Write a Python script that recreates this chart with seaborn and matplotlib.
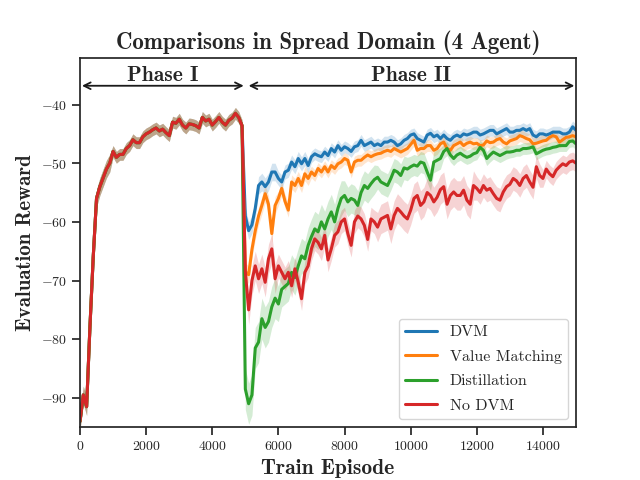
import numpy as np
import pandas as pd
import seaborn as sns
import matplotlib.pyplot as plt

# Setup
sns.set_theme(style="ticks")
plt.rcParams['font.family'] = ['cmr10', 'DejaVu Serif']
plt.rcParams['mathtext.fontset'] = 'cm'
plt.rcParams['axes.formatter.use_mathtext'] = True
plt.rcParams['axes.unicode_minus'] = True

# Data (one value every 100 episodes)
episodes = np.arange(0, 15001, 100)

# Phase I: all methods share the same run (ep 0 .. 4900)
phase1 = [-94.0, -89.5, -91.5, -78.0, -66.0, -56.0, -54.0, -52.5, -51.0, -50.0,
          -48.0, -49.0, -48.5, -48.5, -47.5, -47.0, -46.0, -46.5, -46.5, -45.5,
          -45.0, -44.7, -44.3, -44.0, -44.5, -44.2, -44.8, -45.3, -43.0, -43.2,
          -42.5, -43.5, -44.0, -43.3, -43.4, -43.6, -44.0, -42.2, -42.8, -42.5,
          -43.5, -42.9, -42.2, -43.0, -43.5, -42.7, -42.3, -41.5, -42.2, -43.6]

# Phase II (ep 5000 .. 15000)
dvm = [-59.0, -61.5, -60.5, -57.7, -53.8, -53.2, -54.0, -53.2, -51.5, -51.5,
       -52.6, -53.2, -51.5, -51.2, -49.8, -50.6, -49.2, -50.1, -49.2, -50.4,
       -48.9, -48.4, -48.7, -48.9, -48.1, -48.7, -47.5, -48.1, -47.0, -47.8,
       -47.2, -47.5, -48.0, -47.2, -47.0, -46.1, -47.0, -46.7, -46.4, -47.0,
       -46.7, -47.0, -46.4, -46.4, -46.1, -46.4, -47.0, -46.7, -46.1, -45.8,
       -45.2, -45.0, -45.8, -46.1, -46.4, -45.2, -44.9, -45.5, -45.2, -45.8,
       -45.2, -45.8, -46.1, -45.5, -45.2, -45.5, -45.0, -45.2, -45.0, -44.7,
       -44.7, -45.2, -45.0, -44.7, -44.4, -44.4, -45.0, -44.7, -44.4, -44.1,
       -44.7, -44.7, -44.4, -44.4, -44.1, -44.4, -44.1, -45.2, -45.5, -45.0,
       -45.0, -45.2, -45.0, -44.7, -44.7, -44.7, -45.0, -45.0, -44.7, -43.8,
       -44.4]
value_matching = [-68.5, -69.0, -64.7, -61.5, -59.0, -57.2, -55.2, -57.0, -62.0, -57.2,
                  -56.0, -54.3, -56.5, -58.0, -53.2, -53.8, -52.6, -53.8, -51.8, -52.6,
                  -51.5, -52.1, -50.9, -51.5, -50.6, -51.5, -50.4, -50.9, -50.1, -49.8,
                  -49.2, -49.5, -51.5, -49.8, -49.5, -49.5, -49.0, -48.6, -48.9, -48.6,
                  -48.4, -48.3, -48.0, -47.8, -48.0, -47.5, -47.8, -48.1, -47.8, -47.5,
                  -46.8, -46.1, -47.8, -47.5, -47.5, -47.0, -47.0, -47.8, -47.5, -46.7,
                  -46.4, -47.5, -47.8, -47.0, -46.7, -46.4, -47.0, -46.6, -46.4, -46.7,
                  -46.6, -47.0, -46.9, -46.2, -46.5, -46.4, -46.0, -45.8, -46.4, -46.7,
                  -46.2, -46.0, -45.8, -45.3, -45.5, -45.8, -46.0, -46.7, -46.6, -46.4,
                  -46.2, -46.1, -45.6, -45.3, -45.5, -46.4, -46.0, -45.6, -45.5, -45.3,
                  -45.5]
distillation = [-88.5, -91.0, -89.5, -81.5, -80.5, -76.5, -78.0, -77.0, -74.5, -73.0,
                -74.0, -71.5, -71.0, -70.5, -68.6, -69.5, -67.5, -65.8, -66.3, -64.0,
                -62.5, -61.2, -61.7, -60.0, -61.2, -59.5, -58.3, -60.0, -57.7, -56.0,
                -55.5, -56.6, -56.0, -56.3, -57.2, -55.0, -53.8, -54.3, -53.5, -52.8,
                -52.4, -53.2, -53.5, -53.8, -52.6, -51.2, -51.5, -52.1, -50.8, -51.0,
                -50.6, -50.3, -50.5, -49.8, -50.0, -51.5, -52.9, -49.8, -49.5, -49.2,
                -48.0, -47.5, -48.6, -49.2, -48.6, -48.3, -48.7, -49.0, -48.8, -48.4,
                -48.2, -47.3, -47.8, -49.2, -48.6, -48.1, -48.4, -48.7, -48.4, -48.1,
                -48.1, -48.0, -47.8, -47.8, -47.5, -47.5, -47.4, -47.2, -48.4, -48.1,
                -47.8, -47.6, -47.5, -47.3, -47.2, -47.0, -47.0, -47.0, -46.3, -46.2,
                -46.7]
no_dvm = [-68.5, -75.0, -70.0, -67.5, -69.7, -68.0, -70.3, -66.3, -64.6, -69.7,
          -67.5, -68.6, -69.7, -68.6, -70.9, -68.0, -70.3, -73.1, -68.6, -67.5,
          -64.6, -62.9, -63.5, -64.6, -62.3, -66.5, -64.6, -62.3, -61.7, -60.0,
          -59.5, -62.0, -64.0, -60.0, -59.0, -59.5, -60.6, -63.0, -59.5, -60.0,
          -60.9, -59.5, -59.2, -58.9, -61.2, -58.9, -57.7, -58.3, -59.0, -59.5,
          -58.0, -56.0, -55.5, -57.2, -56.6, -55.0, -55.5, -56.6, -55.8, -54.5,
          -54.0, -57.0, -55.5, -54.9, -55.5, -55.5, -54.6, -56.3, -57.0, -53.8,
          -54.3, -55.0, -53.8, -54.6, -54.3, -55.2, -56.0, -56.3, -54.9, -54.0,
          -53.6, -52.6, -53.0, -53.8, -52.6, -52.1, -53.2, -54.1, -50.6, -52.1,
          -52.6, -51.0, -51.8, -52.3, -51.2, -50.6, -50.1, -50.4, -49.8, -49.6,
          -50.0]

# spread (std) per 1000-episode block
dvm_sd = [1.5, 1.0, 1.0, 1.0, 1.0, 1.5, 1.2, 1.0, 1.0, 1.0, 1.0, 1.0, 1.0, 1.0, 1.0, 1.0]
vm_sd = [1.5, 1.0, 1.0, 1.0, 1.0, 1.5, 1.2, 1.0, 1.0, 1.0, 1.0, 1.0, 1.0, 1.0, 1.0, 1.0]
dist_sd = [1.5, 1.0, 1.0, 1.0, 1.0, 3.5, 3.0, 3.0, 2.5, 2.0, 1.8, 1.2, 1.2, 1.0, 1.0, 1.0]
nodvm_sd = [1.5, 1.0, 1.0, 1.0, 1.0, 2.5, 2.0, 2.0, 2.0, 2.5, 2.5, 2.5, 2.0, 2.0, 1.5, 1.5]

methods = ["DVM", "Value Matching", "Distillation", "No DVM"]
phase2 = [dvm, value_matching, distillation, no_dvm]
spreads = [dvm_sd, vm_sd, dist_sd, nodvm_sd]
colors = ["#1f77b4", "#ff7f0e", "#2ca02c", "#d62728"]

frames = []
for name, p2 in zip(methods, phase2):
    frames.append(pd.DataFrame({"episode": episodes,
                                "reward": np.array(phase1 + p2),
                                "method": name}))
data = pd.concat(frames, ignore_index=True)

fig, ax = plt.subplots(figsize=(6.4, 4.8), dpi=100)

for name, sd, c in zip(methods, spreads, colors):
    y = data.loc[data["method"] == name, "reward"].to_numpy()
    s = np.repeat(sd, 10)[:len(episodes)]
    ax.fill_between(episodes, y - s, y + s, color=c, alpha=0.2, linewidth=0)

sns.lineplot(data=data, x="episode", y="reward", hue="method",
             hue_order=methods, palette=colors, linewidth=2.2,
             errorbar=None, ax=ax)

ax.set_xlim(0, 15000)
ax.set_ylim(-95, -32)
ax.set_xticks([0, 2000, 4000, 6000, 8000, 10000, 12000, 14000])
ax.set_yticks([-90, -80, -70, -60, -50, -40])
ax.tick_params(labelsize=10)

bold = dict(fontfamily="cmb10")
ax.set_title("Comparisons in Spread Domain (4 Agent)", fontsize=16.5, **bold)
ax.set_xlabel("Train Episode", fontsize=15.5, **bold)
ax.set_ylabel("Evaluation Reward", fontsize=15, **bold)

# Phase annotations
arrow = dict(arrowstyle="<->", color="0.1", lw=1.3, shrinkA=0, shrinkB=0)
ax.annotate("", xy=(60, -36.8), xytext=(4950, -36.8), arrowprops=arrow)
ax.annotate("", xy=(5100, -36.8), xytext=(14950, -36.8), arrowprops=arrow)
ax.text(2500, -35.0, "Phase I", ha="center", va="center", fontsize=15.5, **bold)
ax.text(10000, -35.0, "Phase II", ha="center", va="center", fontsize=15.5, **bold)

handles, labels = ax.get_legend_handles_labels()
ax.legend(handles, labels, loc="lower right", fontsize=11.5, labelspacing=0.65)

plt.savefig("out.png", dpi=100)
